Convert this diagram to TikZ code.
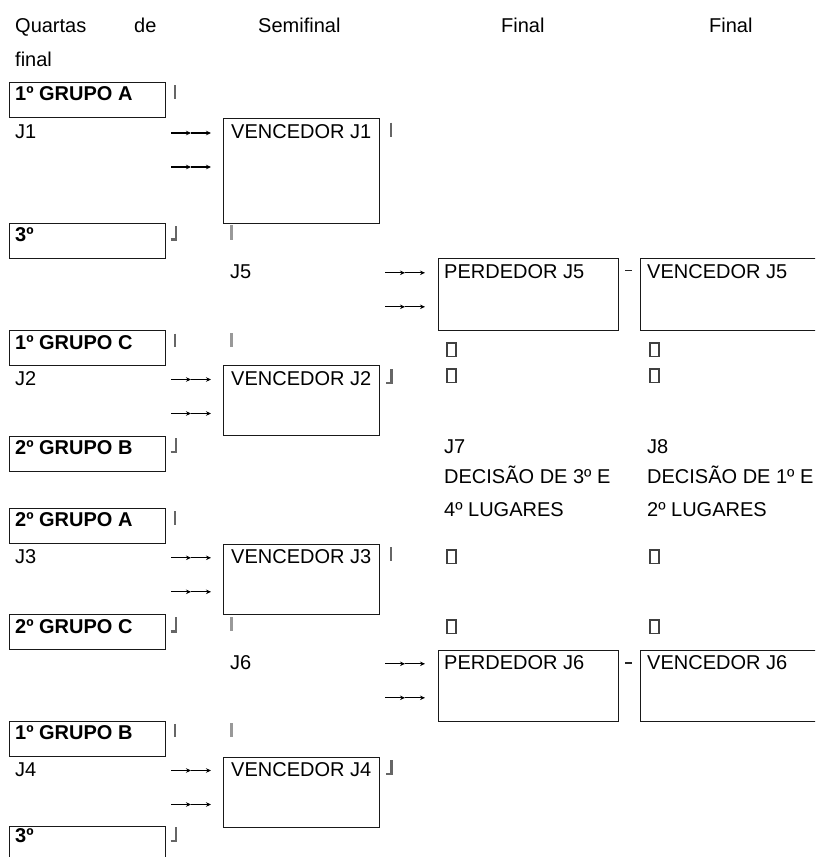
\documentclass[tikz,border=0pt]{standalone}
\usepackage{fontspec}
\usetikzlibrary{arrows.meta}
\setmainfont{Liberation Sans}
\begin{document}
\begin{tikzpicture}[x=1pt,y=-1pt,
  txt/.style={anchor=base west, inner sep=0pt, font=\fontsize{20}{24}\selectfont, text=black},
  btxt/.style={txt, font=\fontsize{20}{24}\selectfont\bfseries},
  box/.style={draw=black!90, line width=1.2pt, anchor=north west, inner sep=0pt, minimum width=#1},
  qbox/.style={box=156pt, minimum height=35pt},
  sbox/.style={box=156pt, minimum height=70pt},
  fbox/.style={box=180pt, minimum height=72pt},
  darkmark/.style={draw=black!60, line width=2.4pt},
  lightmark/.style={draw=black!40, line width=2.4pt},
  tofu/.style={draw=black!75, line width=1.3pt},
  dashmark/.style={draw=black!85, line width=1.6pt},
  arr/.style={draw=black, line width=1.1pt, -{Stealth[length=5pt,width=4.5pt]}}]
\useasboundingbox (0,0) rectangle (815,857);
\clip (0,0) rectangle (815,857);
\fill[white] (0,0) rectangle (815,857);

% headers
\node[txt] (h1) at (15,32) {Quartas};
\node[txt] (h2) at (134,32) {de};
\node[txt] (h3) at (258,32) {Semifinal};
\node[txt] (h4) at (501,32) {Final};
\node[txt] (h5) at (709,32) {Final};
\node[txt] (h6) at (15,66) {final};

% quarter-final boxes
\node[qbox] (qa) at (9,82) {};   \node[btxt] (qat) at (15,100.5) {1º GRUPO A};
\node[qbox] (qb) at (9,223) {};  \node[btxt] (qbt) at (15,241.5) {3º};
\node[qbox] (qc) at (9,330) {};  \node[btxt] (qct) at (15,349) {1º GRUPO C};
\node[qbox] (qd) at (9,436) {};  \node[btxt] (qdt) at (15,454) {2º GRUPO B};
\node[qbox] (qe) at (9,508) {};  \node[btxt] (qet) at (15,526.7) {2º GRUPO A};
\node[qbox] (qf) at (9,614) {};  \node[btxt] (qft) at (15,633.3) {2º GRUPO C};
\node[qbox] (qg) at (9,721) {};  \node[btxt] (qgt) at (15,739.3) {1º GRUPO B};
\node[qbox] (qh) at (9,826) {};  \node[btxt] (qht) at (15,842.7) {3º};

% game labels
\node[txt] (j1) at (15,138.5) {J1};
\node[txt] (j2) at (15,385) {J2};
\node[txt] (j3) at (15,563.3) {J3};
\node[txt] (j4) at (15,776) {J4};
\node[txt] (j5) at (230,278.3) {J5};
\node[txt] (j6) at (230,669.3) {J6};

% double arrows (glyph-like)
\foreach \xx/\yy in {171/133, 171/167, 171/379.5, 171/413.5, 171/557.8, 171/591.8, 171/770.5, 171/804.5,
                     385/272.8, 385/306.8, 385/663.8, 385/697.8}{
  \draw[arr] (\xx,\yy) -- (\xx+20,\yy);
  \draw[arr] (\xx+20,\yy) -- (\xx+40,\yy);
}

% semifinal boxes
\node[sbox, minimum height=105pt] (s1) at (223,118) {}; \node[txt] (s1t) at (231,138.5) {VENCEDOR J1};
\node[sbox] (s2) at (223,365) {}; \node[txt] (s2t) at (231,385) {VENCEDOR J2};
\node[sbox] (s3) at (223,544) {}; \node[txt] (s3t) at (231,563.3) {VENCEDOR J3};
\node[sbox] (s4) at (223,757) {}; \node[txt] (s4t) at (231,776) {VENCEDOR J4};

% final boxes
\node[fbox] (f1) at (438,258) {}; \node[txt] (f1t) at (444,278.3) {PERDEDOR J5};
\node[box=190pt, minimum height=72pt] (f2) at (640,258) {}; \node[txt] (f2t) at (647,278.3) {VENCEDOR J5};
\node[fbox, minimum height=71pt] (f3) at (438,650) {}; \node[txt] (f3t) at (444,669.3) {PERDEDOR J6};
\node[box=190pt, minimum height=71pt] (f4) at (640,650) {}; \node[txt] (f4t) at (647,669.3) {VENCEDOR J6};

% dashes between final boxes
\draw[dashmark] (625,270.5) -- (632,270.5);
\draw[dashmark] (625,662.7) -- (632,662.7);

% final texts
\node[txt] (j7) at (444,453.3) {J7};
\node[txt] (j8) at (647,453.3) {J8};
\node[txt] (d1) at (444,483.3) {DECISÃO DE 3º E};
\node[txt] (d2) at (647,483.3) {DECISÃO DE 1º E};
\node[txt] (l1) at (444,516.7) {4º LUGARES};
\node[txt] (l2) at (647,516.7) {2º LUGARES};

% missing-glyph boxes
\foreach \yy in {343,369,550,620}{
  \draw[tofu] (447,\yy) rectangle (456,\yy+13.5);
  \draw[tofu] (650,\yy) rectangle (659,\yy+13.5);
}

% bar marks next to quarter boxes
\foreach \b in {100.5,349,526.7,739.3}{
  \draw[darkmark] (175,\b-15.5) -- (175,\b-2);
}
\foreach \b in {241.5,454,633.3,842.7}{
  \draw[darkmark] (170.5,\b-2) -- (176,\b-2) -- (176,\b-16);
}
% marks next to semifinal boxes
\foreach \b in {138.5,563.3}{
  \draw[darkmark] (391,\b-16) -- (391,\b-2);
}
\foreach \b in {385,776}{
  \draw[darkmark] (386,\b-2) -- (391.5,\b-2) -- (391.5,\b-16);
}
% light bars under semifinal column
\draw[lightmark] (231.5,225) -- (231.5,240);
\foreach \b in {349,633.3,739.3}{
  \draw[lightmark] (231.5,\b-16) -- (231.5,\b-2);
}
\end{tikzpicture}
\end{document}
